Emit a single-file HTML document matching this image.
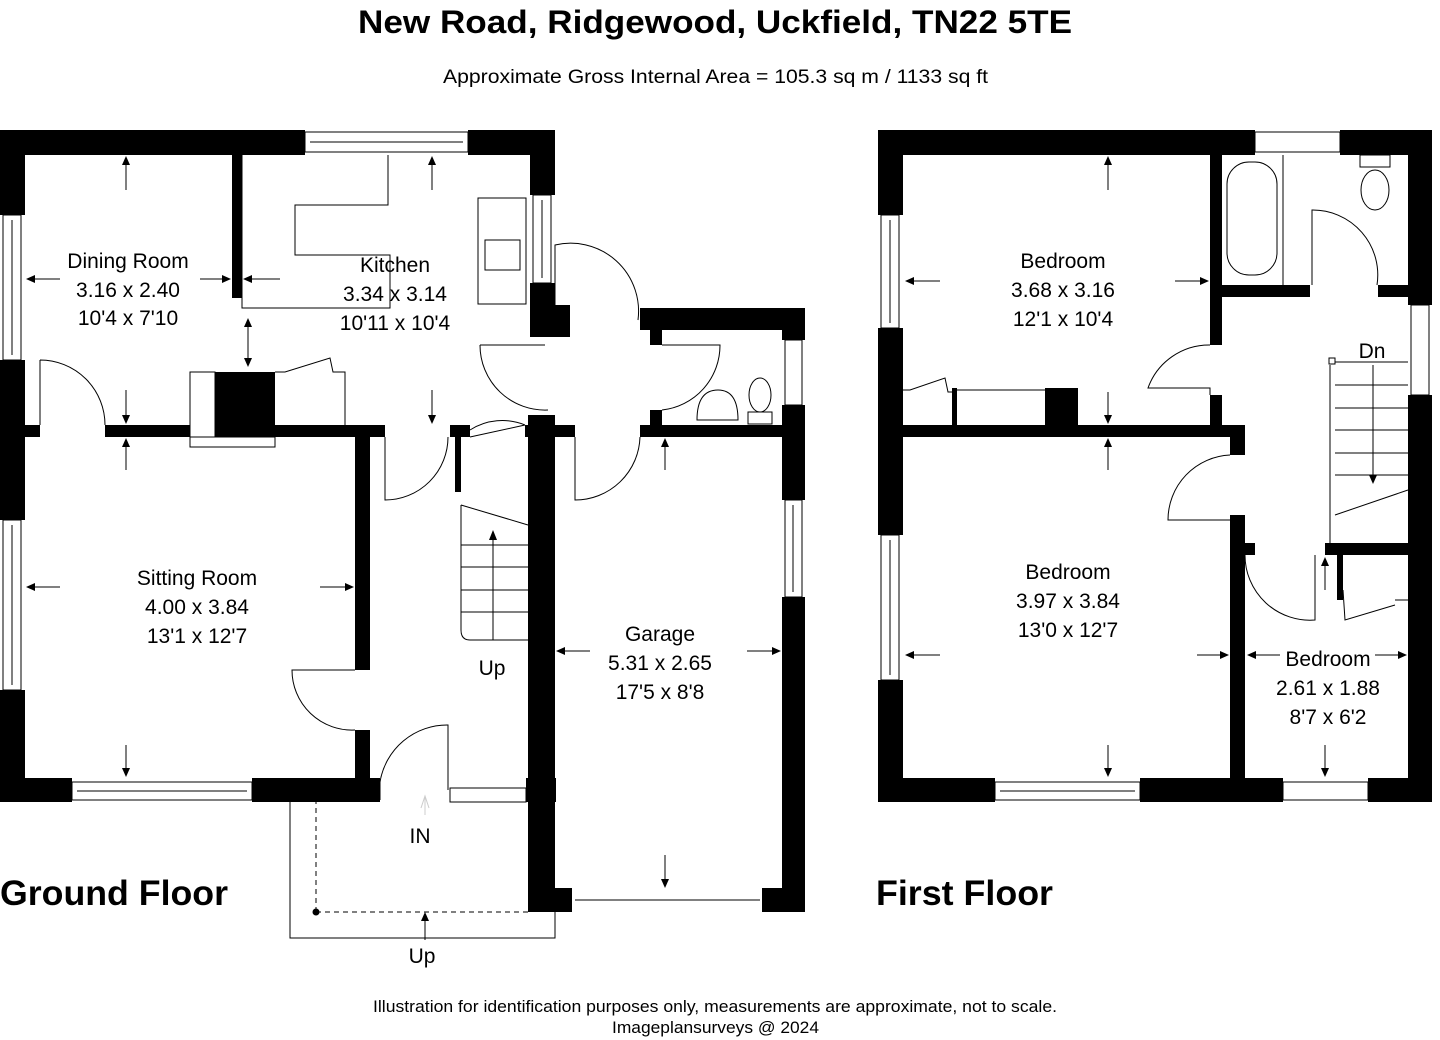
<!DOCTYPE html>
<html><head><meta charset="utf-8"><style>
body{margin:0;background:#fff;}
svg{display:block;font-family:"Liberation Sans",sans-serif;}
.r{font-size:21px;text-anchor:middle;fill:#000}
.t{stroke:#000;stroke-width:1;fill:none}
.w{fill:#fff;stroke:#000;stroke-width:1}
</style></head><body>
<svg width="1440" height="1040" viewBox="0 0 1440 1040">
<text x="358" y="33" font-size="32" font-weight="bold" textLength="714" lengthAdjust="spacingAndGlyphs">New Road, Ridgewood, Uckfield, TN22 5TE</text>
<text x="443" y="83" font-size="19" textLength="545" lengthAdjust="spacingAndGlyphs">Approximate Gross Internal Area = 105.3 sq m / 1133 sq ft</text>
<text x="373" y="1012" font-size="17" textLength="684" lengthAdjust="spacingAndGlyphs">Illustration for identification purposes only, measurements are approximate, not to scale.</text>
<text x="612" y="1033" font-size="17" textLength="207" lengthAdjust="spacingAndGlyphs">Imageplansurveys @ 2024</text>
<text x="0" y="905" font-size="35" font-weight="bold" textLength="228" lengthAdjust="spacingAndGlyphs">Ground Floor</text>
<text x="876" y="905" font-size="35" font-weight="bold" textLength="177" lengthAdjust="spacingAndGlyphs">First Floor</text>

<g fill="#000">
<rect x="0" y="130" width="305" height="25"/>
<rect x="468" y="130" width="87" height="25"/>
<rect x="530" y="130" width="25" height="65"/>
<rect x="530" y="283" width="25" height="25"/>
<rect x="530" y="305" width="40" height="32"/>
<rect x="0" y="130" width="25" height="85"/>
<rect x="0" y="360" width="25" height="160"/>
<rect x="0" y="690" width="25" height="112"/>
<rect x="0" y="778" width="72" height="24"/>
<rect x="252" y="778" width="128" height="24"/>
<rect x="0" y="425" width="40" height="12"/>
<rect x="105" y="425" width="280" height="12"/>
<rect x="232" y="155" width="10" height="143"/>
<rect x="355" y="437" width="15" height="233"/>
<rect x="355" y="730" width="15" height="60"/>
<rect x="450" y="425" width="20" height="12"/>
<rect x="455" y="437" width="6" height="55"/>
<rect x="525" y="425" width="50" height="12"/>
<rect x="528" y="415" width="27" height="497"/>
<rect x="528" y="888" width="44" height="24"/>
<rect x="762" y="888" width="43" height="24"/>
<rect x="782" y="597" width="23" height="315"/>
<rect x="782" y="405" width="23" height="95"/>
<rect x="782" y="310" width="23" height="30"/>
<rect x="640" y="308" width="165" height="22"/>
<rect x="640" y="425" width="165" height="12"/>
<rect x="650" y="410" width="12" height="15"/>
<rect x="650" y="330" width="12" height="15"/>
<rect x="215" y="372" width="60" height="53"/>
<rect x="526" y="778" width="30" height="24"/>
</g>
<rect class="w" x="305" y="132" width="163" height="20"/><line class="t" x1="310" y1="142" x2="463" y2="142"/>
<rect class="w" x="3" y="215" width="18" height="145"/><line class="t" x1="12" y1="220" x2="12" y2="355"/>
<rect class="w" x="3" y="520" width="18" height="170"/><line class="t" x1="12" y1="525" x2="12" y2="685"/>
<rect class="w" x="72" y="782" width="180" height="18"/><line class="t" x1="77" y1="791" x2="247" y2="791"/>
<rect class="w" x="533" y="195" width="18" height="88"/><line class="t" x1="542" y1="200" x2="542" y2="278"/>
<rect class="w" x="785" y="500" width="17" height="97"/><line class="t" x1="793" y1="505" x2="793" y2="592"/>
<rect class="w" x="785" y="340" width="17" height="65"/>
<rect class="w" x="450" y="788" width="76" height="14"/>
<line class="t" x1="575" y1="900" x2="760" y2="900" stroke-width="2"/>
<path class="t" d="M242 155 V308 H390 V255 H295 V205 H388 V155"/>
<rect class="w" x="478" y="198" width="48" height="106"/>
<rect class="w" x="485" y="240" width="35" height="30"/>
<rect class="w" x="190" y="372" width="25" height="73"/>
<rect class="w" x="190" y="437" width="85" height="10"/>
<path class="t" d="M275 372 H285 L330 358 L333 372 H345 V425"/>
<path class="t" d="M40 360 V425 M40 360 A65 65 0 0 1 105 425"/>
<path class="t" d="M385 437 V500 A63 63 0 0 0 448 437"/>
<path class="t" d="M470 437 L525 425 M470 430 A60 60 0 0 1 525 425"/>
<path class="t" d="M355 670 H292 A60 60 0 0 0 355 730"/>
<path class="t" d="M380 800 V782 A68 68 0 0 1 448 725 V790"/>
<path class="t" d="M555 310 V245 A68 68 0 0 1 638 320"/>
<path class="t" d="M480 345 H545 M480 345 A65 65 0 0 0 548 410"/>
<path class="t" d="M575 437 V500 A65 65 0 0 0 640 437"/>
<path class="t" d="M662 345 H720 A65 65 0 0 1 662 410"/>
<path class="t" d="M697 420 Q697 390 718 390 Q738 390 738 420 Z"/>
<ellipse class="t" cx="760" cy="395" rx="11" ry="17"/><rect class="w" x="748" y="412" width="24" height="12"/>
<path class="t" d="M461 505 L528 525 M461 505 V630 Q461 640 470 640 H528"/>
<g class="t"><line x1="461" y1="545" x2="528" y2="545"/><line x1="461" y1="567" x2="528" y2="567"/><line x1="461" y1="590" x2="528" y2="590"/><line x1="461" y1="612" x2="528" y2="612"/><line x1="493" y1="535" x2="493" y2="640"/></g>
<path d="M493 530 l-4 10 h8z"/>
<path class="t" d="M290 802 V938 H555 V912"/>
<path class="t" d="M316 912 V802 M316 912 H528" stroke-dasharray="5,4"/>
<circle cx="316" cy="912" r="3.5"/>
<path class="t" d="M425 940 V915"/><path d="M425 912 l-4 9 h8z"/>
<path d="M421 808 l4 -12 l4 12 M425 796 V815" stroke="#ccc" fill="none"/>
<g class="t">
<line x1="126" y1="158" x2="126" y2="190"/><line x1="432" y1="158" x2="432" y2="190"/>
<line x1="28" y1="279" x2="60" y2="279"/><line x1="200" y1="279" x2="230" y2="279"/><line x1="245" y1="279" x2="280" y2="279"/>
<line x1="248" y1="320" x2="248" y2="365"/>
<line x1="126" y1="390" x2="126" y2="422"/><line x1="432" y1="390" x2="432" y2="422"/>
<line x1="126" y1="440" x2="126" y2="470"/>
<line x1="28" y1="587" x2="60" y2="587"/><line x1="320" y1="587" x2="352" y2="587"/>
<line x1="126" y1="745" x2="126" y2="775"/>
<line x1="558" y1="651" x2="590" y2="651"/><line x1="747" y1="651" x2="779" y2="651"/>
<line x1="665" y1="855" x2="665" y2="887"/><line x1="665" y1="440" x2="665" y2="470"/>
</g>
<g>
<path d="M126 156 l-4 9 h8z"/><path d="M432 156 l-4 9 h8z"/>
<path d="M26 279 l9 -4 v8z"/><path d="M231 279 l-9 -4 v8z"/><path d="M243 279 l9 -4 v8z"/>
<path d="M248 318 l-4 9 h8z"/><path d="M248 367 l-4 -9 h8z"/>
<path d="M126 424 l-4 -9 h8z"/><path d="M432 424 l-4 -9 h8z"/>
<path d="M126 438 l-4 9 h8z"/>
<path d="M26 587 l9 -4 v8z"/><path d="M354 587 l-9 -4 v8z"/>
<path d="M126 777 l-4 -9 h8z"/>
<path d="M556 651 l9 -4 v8z"/><path d="M781 651 l-9 -4 v8z"/>
<path d="M665 888 l-4 -9 h8z"/><path d="M665 438 l-4 9 h8z"/>
</g>
<text class="r" x="128" y="268">Dining Room</text><text class="r" x="128" y="297">3.16 x 2.40</text><text class="r" x="128" y="325">10'4 x 7'10</text>
<text class="r" x="395" y="272">Kitchen</text><text class="r" x="395" y="301">3.34 x 3.14</text><text class="r" x="395" y="330">10'11 x 10'4</text>
<text class="r" x="197" y="585">Sitting Room</text><text class="r" x="197" y="614">4.00 x 3.84</text><text class="r" x="197" y="643">13'1 x 12'7</text>
<text class="r" x="660" y="641">Garage</text><text class="r" x="660" y="670">5.31 x 2.65</text><text class="r" x="660" y="699">17'5 x 8'8</text>
<text class="r" x="492" y="675">Up</text>
<text class="r" x="420" y="843" font-size="25">IN</text>
<text class="r" x="422" y="963">Up</text>

<g fill="#000">
<rect x="878" y="130" width="377" height="25"/>
<rect x="1340" y="130" width="92" height="25"/>
<rect x="878" y="130" width="25" height="85"/>
<rect x="878" y="328" width="25" height="207"/>
<rect x="878" y="680" width="25" height="122"/>
<rect x="878" y="778" width="117" height="24"/>
<rect x="1140" y="778" width="143" height="24"/>
<rect x="1368" y="778" width="64" height="24"/>
<rect x="1408" y="130" width="24" height="175"/>
<rect x="1408" y="395" width="24" height="407"/>
<rect x="1210" y="155" width="12" height="190"/>
<rect x="1210" y="285" width="100" height="12"/>
<rect x="1378" y="285" width="54" height="12"/>
<rect x="1210" y="395" width="12" height="30"/>
<rect x="878" y="425" width="367" height="12"/>
<rect x="1230" y="425" width="15" height="30"/>
<rect x="1230" y="515" width="15" height="263"/>
<rect x="1230" y="543" width="25" height="12"/>
<rect x="1325" y="543" width="107" height="12"/>
<rect x="1337" y="555" width="6" height="45"/>
<rect x="1045" y="388" width="33" height="37"/>
<rect x="952" y="388" width="5" height="37"/>
</g>
<rect class="w" x="1255" y="132" width="85" height="20"/>
<rect class="w" x="881" y="215" width="18" height="113"/><line class="t" x1="890" y1="220" x2="890" y2="323"/>
<rect class="w" x="881" y="535" width="18" height="145"/><line class="t" x1="890" y1="540" x2="890" y2="675"/>
<rect class="w" x="995" y="782" width="145" height="18"/><line class="t" x1="1000" y1="791" x2="1135" y2="791"/>
<rect class="w" x="1283" y="782" width="85" height="18"/>
<rect class="w" x="1411" y="305" width="18" height="90"/>
<line class="t" x1="1283" y1="155" x2="1283" y2="285"/>
<rect class="t" x="1227" y="162" width="50" height="113" rx="22"/>
<rect class="w" x="1360" y="155" width="30" height="12"/>
<ellipse class="t" cx="1375" cy="190" rx="14" ry="20"/>
<path class="t" d="M1312 285 V210 A65 65 0 0 1 1377 285"/>
<path class="t" d="M1210 345 A65 65 0 0 0 1148 388 H1210 V395"/>
<path class="t" d="M1230 455 A65 65 0 0 0 1168 520 H1230"/>
<path class="t" d="M1245 555 A65 65 0 0 0 1315 620 V555"/>
<path class="t" d="M1343 590 L1345 620 L1395 605 M1395 600 H1408"/>
<path class="t" d="M903 390 H910 L945 378 L948 392 H952 M957 390 H1045"/>
<path class="t" d="M1330 365 V545 M1330 362 H1408 M1335 515 L1408 490"/>
<g class="t"><line x1="1335" y1="385" x2="1408" y2="385"/><line x1="1335" y1="408" x2="1408" y2="408"/><line x1="1335" y1="430" x2="1408" y2="430"/><line x1="1335" y1="453" x2="1408" y2="453"/><line x1="1335" y1="475" x2="1408" y2="475"/><line x1="1373" y1="365" x2="1373" y2="480"/></g>
<rect class="w" x="1329" y="358" width="6" height="6"/>
<path d="M1373 484 l-4 -9 h8z"/>
<text class="r" x="1372" y="358">Dn</text>
<path class="t" d="M1325 560 V590"/><path d="M1325 557 l-4 9 h8z"/>
<g class="t">
<line x1="1108" y1="158" x2="1108" y2="190"/>
<line x1="906" y1="281" x2="940" y2="281"/><line x1="1175" y1="281" x2="1207" y2="281"/>
<line x1="1108" y1="392" x2="1108" y2="422"/><line x1="1108" y1="440" x2="1108" y2="470"/>
<line x1="906" y1="655" x2="940" y2="655"/><line x1="1197" y1="655" x2="1228" y2="655"/>
<line x1="1108" y1="745" x2="1108" y2="775"/>
<line x1="1248" y1="655" x2="1280" y2="655"/><line x1="1375" y1="655" x2="1406" y2="655"/>
<line x1="1325" y1="745" x2="1325" y2="775"/>
</g>
<g>
<path d="M1108 156 l-4 9 h8z"/>
<path d="M905 281 l9 -4 v8z"/><path d="M1209 281 l-9 -4 v8z"/>
<path d="M1108 424 l-4 -9 h8z"/><path d="M1108 438 l-4 9 h8z"/>
<path d="M905 655 l9 -4 v8z"/><path d="M1229 655 l-9 -4 v8z"/>
<path d="M1108 777 l-4 -9 h8z"/>
<path d="M1247 655 l9 -4 v8z"/><path d="M1407 655 l-9 -4 v8z"/>
<path d="M1325 777 l-4 -9 h8z"/>
</g>
<text class="r" x="1063" y="268">Bedroom</text><text class="r" x="1063" y="297">3.68 x 3.16</text><text class="r" x="1063" y="326">12'1 x 10'4</text>
<text class="r" x="1068" y="579">Bedroom</text><text class="r" x="1068" y="608">3.97 x 3.84</text><text class="r" x="1068" y="637">13'0 x 12'7</text>
<text class="r" x="1328" y="666">Bedroom</text><text class="r" x="1328" y="695">2.61 x 1.88</text><text class="r" x="1328" y="724">8'7 x 6'2</text>
</svg>
</body></html>
